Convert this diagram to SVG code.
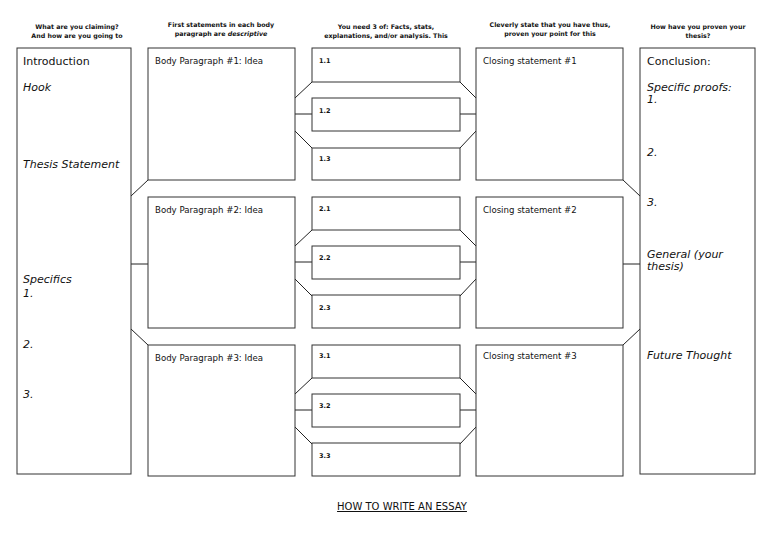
<svg xmlns="http://www.w3.org/2000/svg" width="768" height="543" viewBox="0 0 768 543">
<style>
.b{fill:#fff;stroke:#333;stroke-width:1}
.c line{stroke:#222;stroke-width:1}
text{font-family:"DejaVu Sans",sans-serif;fill:#111}
.t{font-size:11px}
.l{font-size:8.6px}
.i{font-size:11px;font-style:italic}
.s{font-size:6.5px;font-weight:bold}
.h{font-size:6.3px;font-weight:bold;text-anchor:middle}
</style>
<rect width="768" height="543" fill="#fff"/>
<g id="headers">
<text class="h" x="77" y="29">What are you claiming?</text><text class="h" x="77" y="38">And how are you going to</text>
<text class="h" x="221" y="27">First statements in each body</text><text class="h" x="221" y="36">paragraph are <tspan font-style="italic">descriptive</tspan></text>
<text class="h" x="386" y="29">You need 3 of: Facts, stats,</text><text class="h" x="386" y="38">explanations, and/or analysis. This</text>
<text class="h" x="550" y="27">Cleverly state that you have thus,</text><text class="h" x="550" y="36">proven your point for this</text>
<text class="h" x="698" y="29">How have you proven your</text><text class="h" x="698" y="38">thesis?</text>
</g>
<g class="c" id="connectors">
<line x1="148" y1="180" x2="131" y2="196"/><line x1="131" y1="264" x2="148" y2="264"/><line x1="131" y1="329" x2="148" y2="345"/>
<line x1="623" y1="180" x2="640" y2="196"/><line x1="623" y1="264" x2="640" y2="264"/><line x1="640" y1="329" x2="623" y2="345"/>
<g><line x1="295" y1="98" x2="312" y2="82"/><line x1="295" y1="114" x2="312" y2="114"/><line x1="295" y1="131" x2="312" y2="148"/><line x1="460" y1="82" x2="476" y2="98"/><line x1="460" y1="114" x2="476" y2="114"/><line x1="460" y1="148" x2="476" y2="131"/></g>
<g transform="translate(0,148)"><line x1="295" y1="98" x2="312" y2="82"/><line x1="295" y1="114" x2="312" y2="114"/><line x1="295" y1="131" x2="312" y2="148"/><line x1="460" y1="82" x2="476" y2="98"/><line x1="460" y1="114" x2="476" y2="114"/><line x1="460" y1="148" x2="476" y2="131"/></g>
<g transform="translate(0,296)"><line x1="295" y1="98" x2="312" y2="82"/><line x1="295" y1="114" x2="312" y2="114"/><line x1="295" y1="131" x2="312" y2="148"/><line x1="460" y1="82" x2="476" y2="98"/><line x1="460" y1="114" x2="476" y2="114"/><line x1="460" y1="148" x2="476" y2="131"/></g>
</g>
<g id="intro"><rect class="b" x="17" y="48" width="114" height="426"/>
<text class="t" x="23" y="65">Introduction</text><text class="i" x="23" y="91">Hook</text><text class="i" x="23" y="168">Thesis Statement</text>
<text class="i" x="23" y="283">Specifics</text><text class="i" x="23" y="297">1.</text><text class="i" x="23" y="348">2.</text><text class="i" x="23" y="398">3.</text></g>
<g id="body1"><rect class="b" x="148" y="48" width="147" height="132"/><text class="l" x="155" y="64">Body Paragraph #1: Idea</text></g>
<g id="body2"><rect class="b" x="148" y="197" width="147" height="131"/><text class="l" x="155" y="213">Body Paragraph #2: Idea</text></g>
<g id="body3"><rect class="b" x="148" y="345" width="147" height="131"/><text class="l" x="155" y="361">Body Paragraph #3: Idea</text></g>
<g id="e11"><rect class="b" x="312" y="48" width="148" height="34"/><text class="s" x="319" y="63">1.1</text></g>
<g id="e12"><rect class="b" x="312" y="98" width="148" height="33"/><text class="s" x="319" y="113">1.2</text></g>
<g id="e13"><rect class="b" x="312" y="148" width="148" height="32"/><text class="s" x="319" y="161">1.3</text></g>
<g id="e21"><rect class="b" x="312" y="197" width="148" height="33"/><text class="s" x="319" y="211">2.1</text></g>
<g id="e22"><rect class="b" x="312" y="246" width="148" height="33"/><text class="s" x="319" y="260">2.2</text></g>
<g id="e23"><rect class="b" x="312" y="295" width="148" height="33"/><text class="s" x="319" y="310">2.3</text></g>
<g id="e31"><rect class="b" x="312" y="345" width="148" height="33"/><text class="s" x="319" y="358">3.1</text></g>
<g id="e32"><rect class="b" x="312" y="394" width="148" height="33"/><text class="s" x="319" y="408">3.2</text></g>
<g id="e33"><rect class="b" x="312" y="443" width="148" height="33"/><text class="s" x="319" y="458">3.3</text></g>
<g id="close1"><rect class="b" x="476" y="48" width="147" height="132"/><text class="l" x="483" y="64">Closing statement #1</text></g>
<g id="close2"><rect class="b" x="476" y="197" width="147" height="131"/><text class="l" x="483" y="213">Closing statement #2</text></g>
<g id="close3"><rect class="b" x="476" y="345" width="147" height="131"/><text class="l" x="483" y="359">Closing statement #3</text></g>
<g id="conclusion"><rect class="b" x="640" y="48" width="115" height="426"/>
<text class="t" x="647" y="65">Conclusion:</text><text class="i" x="647" y="91">Specific proofs:</text><text class="i" x="647" y="103">1.</text>
<text class="i" x="647" y="156">2.</text><text class="i" x="647" y="206">3.</text><text class="i" x="647" y="258">General (your</text><text class="i" x="647" y="270">thesis)</text><text class="i" x="647" y="359">Future Thought</text></g>
<g id="title"><text x="402" y="510" font-size="10" text-anchor="middle" font-family="Liberation Sans,sans-serif" text-decoration="underline">HOW TO WRITE AN ESSAY</text></g>
</svg>
